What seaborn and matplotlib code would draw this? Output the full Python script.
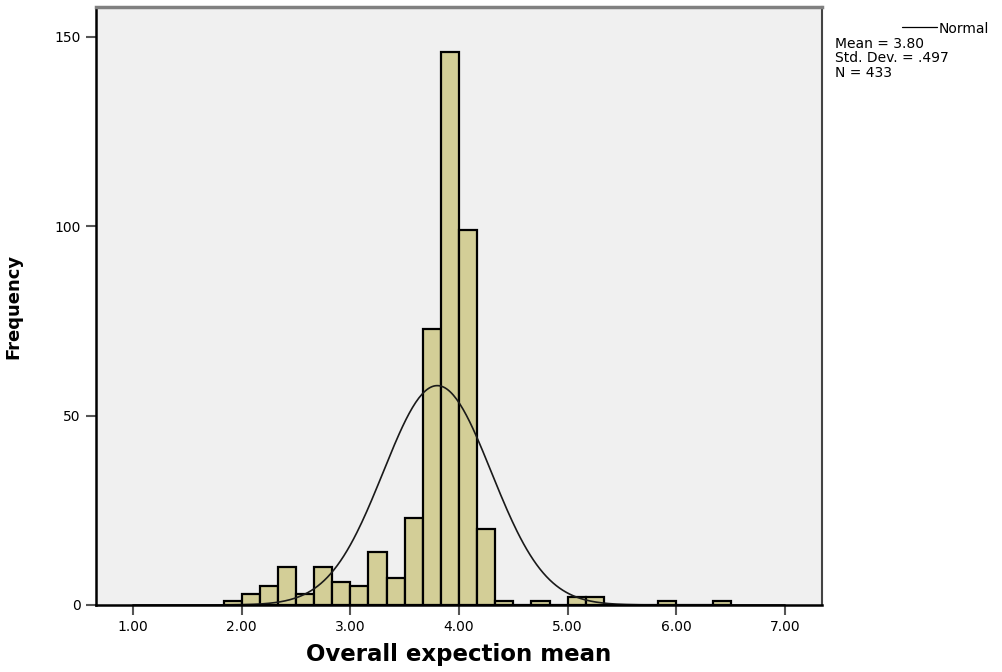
import numpy as np
import pandas as pd
import matplotlib
matplotlib.use("Agg")
import matplotlib.pyplot as plt
import seaborn as sns

# histogram counts (bin width 1/6, first bin starts at 1.833)
counts = [1, 3, 5, 10, 3, 10, 6, 5, 14, 7, 23, 73, 146, 99, 20, 1, 0, 1, 0, 2, 2,
          0, 0, 0, 1, 0, 0, 1]
bin_edges = [11/6 + i/6 for i in range(len(counts) + 1)]
bin_centers = [(a + b) / 2 for a, b in zip(bin_edges[:-1], bin_edges[1:])]

mean_val = 3.80
sd_val = 0.497
n_val = 433
x_ticks = [1, 2, 3, 4, 5, 6, 7]
x_ticklabels = ["1.00", "2.00", "3.00", "4.00", "5.00", "6.00", "7.00"]
y_ticks = [0, 50, 100, 150]

df = pd.DataFrame({"value": bin_centers, "count": counts})

# normal curve scaled to the histogram
bw = 1/6
xs = np.linspace(1.0, 7.0, 400)
ys = n_val * bw / (sd_val * np.sqrt(2 * np.pi)) * np.exp(-0.5 * ((xs - mean_val) / sd_val) ** 2)
curve = pd.DataFrame({"x": xs, "y": ys})

sns.set_style("white")
plt.rcParams['font.family'] = ['DejaVu Sans']
plt.rcParams['text.color'] = 'black'
plt.rcParams['axes.labelcolor'] = 'black'
plt.rcParams['xtick.color'] = 'black'
plt.rcParams['ytick.color'] = 'black'

fig = plt.figure(figsize=(10.03, 6.72), dpi=100)
ax = fig.add_axes([96/1003, 1 - 605/672, (822-96)/1003, (605-7)/672])
ax.set_facecolor("#F0F0F0")

sns.histplot(data=df, x="value", weights="count", bins=bin_edges, ax=ax,
             color="#D3CE97", alpha=1, edgecolor="black", linewidth=1.6)
sns.lineplot(data=curve, x="x", y="y", ax=ax, color="#1a1a1a", linewidth=1.2)

ax.set_xlim(0.66, 7.34)
ax.set_ylim(0, 157.9)
ax.set_xticks(x_ticks)
ax.set_xticklabels(x_ticklabels, fontsize=10)
ax.set_yticks(y_ticks)
ax.set_yticklabels([str(v) for v in y_ticks], fontsize=10)
ax.tick_params(axis="both", direction="out", length=7, width=1.5, color="#555555",
               pad=4, bottom=True, left=True, labelcolor="black")

ax.set_xlabel("Overall expection mean", fontsize=16.5, fontweight="bold", labelpad=6)
ax.set_ylabel("Frequency", fontsize=13, fontweight="bold")
ax.yaxis.set_label_coords(-0.102, 0.5)

for side in ["left", "bottom"]:
    ax.spines[side].set_color("black")
    ax.spines[side].set_linewidth(1.8)
ax.spines["top"].set_color("#808080")
ax.spines["top"].set_linewidth(2.5)
ax.spines["right"].set_color("#444444")
ax.spines["right"].set_linewidth(1.5)

# legend block outside the plot
fig.lines.append(plt.Line2D([902/1003, 937/1003], [1 - 27/672, 1 - 27/672],
                            color="black", linewidth=0.9, transform=fig.transFigure))
fig.text(939/1003, 1 - 29/672, "Normal", fontsize=10, va="center", ha="left")
fig.text(835/1003, 1 - 44/672, f"Mean = {mean_val:.2f}", fontsize=10, va="center")
fig.text(835/1003, 1 - 58/672, f"Std. Dev. = {str(sd_val)[1:]}", fontsize=10, va="center")
fig.text(835/1003, 1 - 73/672, f"N = {n_val}", fontsize=10, va="center")

fig.savefig("out.png", dpi=100, facecolor="white")
